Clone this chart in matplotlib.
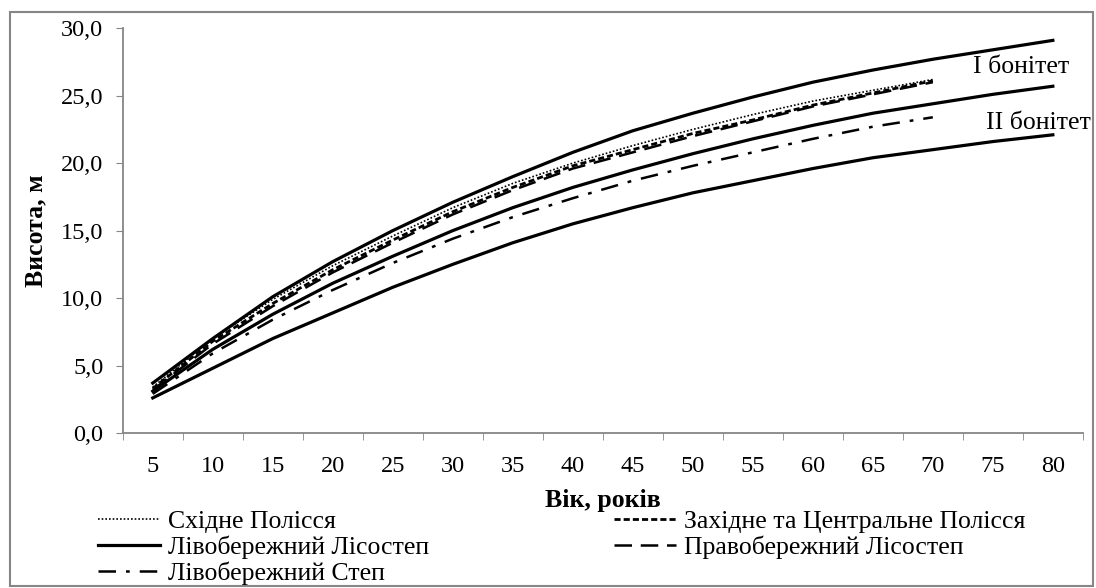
import matplotlib.pyplot as plt
from matplotlib.patches import Rectangle

plt.rcParams['font.family'] = ['Liberation Serif', 'DejaVu Serif']

# вік, років
ages = [5, 10, 15, 20, 25, 30, 35, 40, 45, 50, 55, 60, 65, 70, 75, 80]

# висота, м
bonitet_1 = [3.7, 7.0, 10.1, 12.7, 15.0, 17.1, 19.0, 20.8, 22.4, 23.7, 24.9, 26.0, 26.9, 27.7, 28.4, 29.1]
liv_lisostep = [3.1, 6.2, 8.8, 11.1, 13.1, 15.0, 16.7, 18.2, 19.5, 20.7, 21.8, 22.8, 23.7, 24.4, 25.1, 25.7]
bonitet_2 = [2.6, 4.8, 7.0, 8.9, 10.8, 12.5, 14.1, 15.5, 16.7, 17.8, 18.7, 19.6, 20.4, 21.0, 21.6, 22.1]

ages_70 = ages[:14]
shidne = [3.4, 7.0, 9.9, 12.4, 14.6, 16.7, 18.5, 20.0, 21.3, 22.5, 23.6, 24.6, 25.4, 26.2]
zahidne = [3.3, 6.8, 9.6, 12.1, 14.3, 16.4, 18.2, 19.8, 21.0, 22.2, 23.2, 24.3, 25.2, 26.1]
pravob = [3.2, 6.6, 9.4, 11.9, 14.1, 16.2, 18.0, 19.6, 20.8, 22.0, 23.1, 24.2, 25.1, 26.0]
stepp = [2.9, 5.9, 8.4, 10.6, 12.6, 14.4, 16.0, 17.4, 18.7, 19.8, 20.8, 21.8, 22.7, 23.4]

y_ticks = [0, 5, 10, 15, 20, 25, 30]

fig = plt.figure(figsize=(10.96, 5.88), dpi=100)
ax = fig.add_axes([0.112, 0.2636, 0.876, 0.6884])

x_all = list(range(len(ages)))
x_70 = list(range(len(ages_70)))

l_sh, = ax.plot(x_70, shidne, color='black', lw=1.2, ls=(0, (1, 1.2)))
l_zc, = ax.plot(x_70, zahidne, color='black', lw=2.0, ls=(0, (2.2, 1.1)))
ax.plot(x_all, bonitet_1, color='black', lw=2.3)
l_ll, = ax.plot(x_all, liv_lisostep, color='black', lw=2.3)
ax.plot(x_all, bonitet_2, color='black', lw=2.3)
l_pl, = ax.plot(x_70, pravob, color='black', lw=1.8, ls=(0, (7, 3.5)))
l_st, = ax.plot(x_70, stepp, color='black', lw=1.8, ls=(0, (7, 4, 1.5, 4)))

ax.text(13.67, 27.1, 'I бонітет', fontsize=18.5, ha='left', va='center')
ax.text(13.88, 23.0, 'II бонітет', fontsize=18.5, ha='left', va='center')

ax.set_xlim(-0.5, len(ages) - 0.5)
ax.set_ylim(0, 30)
ax.set_yticks(y_ticks)
ax.set_yticklabels([f'{v:.1f}'.replace('.', ',') for v in y_ticks], fontsize=17.5)
ax.set_xticks(x_all)
ax.set_xticklabels([str(a) for a in ages], fontsize=17.5)
ax.set_xticks([i - 0.5 for i in range(len(ages) + 1)], minor=True)
ax.tick_params(axis='x', which='major', length=0, pad=16.5)
ax.tick_params(axis='x', which='minor', length=5, color='#868686', direction='out')
ax.tick_params(axis='y', length=5, color='#868686', direction='out', pad=9)

for s in ['top', 'right']:
    ax.spines[s].set_visible(False)
for s in ['left', 'bottom']:
    ax.spines[s].set_color('#868686')
    ax.spines[s].set_linewidth(1.3)

ax.set_xlabel('Вік, років', fontsize=18.5, fontweight='bold', labelpad=9)
ax.set_ylabel('Висота, м', fontsize=18.5, fontweight='bold', labelpad=10)

fig.legend([l_sh, l_ll, l_st, l_zc, l_pl],
           ['Східне Полісся', 'Лівобережний Лісостеп', 'Лівобережний Степ',
            'Західне та Центральне Полісся', 'Правобережний Лісостеп'],
           ncol=2, loc='upper left', bbox_to_anchor=(98 / 1096, 1 - 510 / 588),
           frameon=False, fontsize=18.5, handlelength=2.41, handletextpad=0.31,
           labelspacing=0.1, columnspacing=7.2, borderpad=0, borderaxespad=0)

fig.patches.append(Rectangle((10 / 1096, 2 / 588), 1083 / 1096, 574 / 588,
                             transform=fig.transFigure, fill=False,
                             edgecolor='#868686', lw=1.5))

fig.savefig('out.png', dpi=100)
